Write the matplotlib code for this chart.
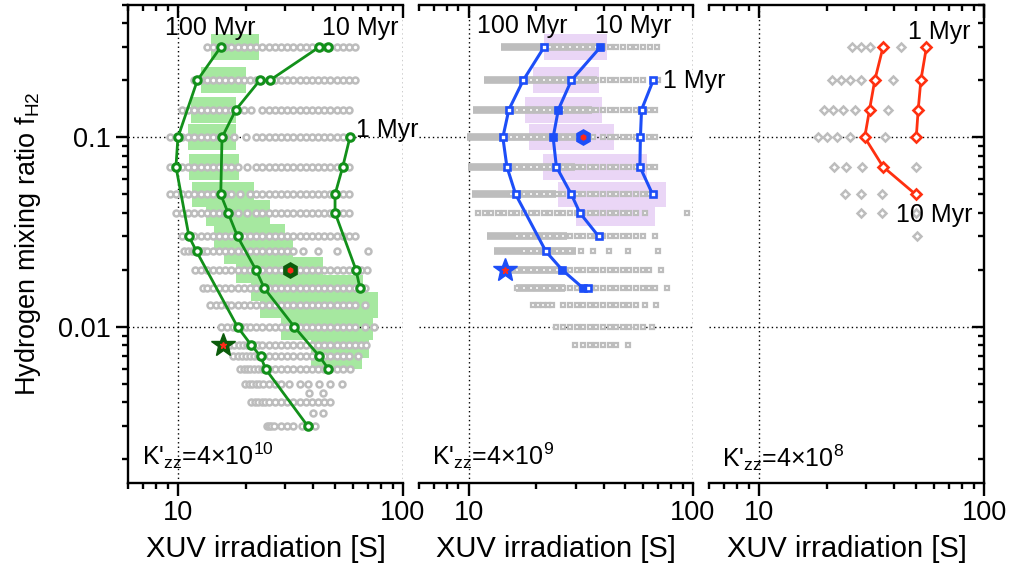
import matplotlib.pyplot as plt
from matplotlib.ticker import FixedLocator, FuncFormatter, LogLocator, NullFormatter

plt.rcParams['font.family'] = ['Liberation Sans', 'DejaVu Sans']
plt.rcParams['mathtext.fontset'] = 'custom'
plt.rcParams['mathtext.rm'] = 'Liberation Sans'
plt.rcParams['mathtext.it'] = 'Liberation Sans:italic'

# ---------------- panel 1: K'zz = 4e10 (green) ----------------
p1_rows = [0.3, 0.2, 0.14, 0.1, 0.07, 0.05, 0.04, 0.03, 0.025, 0.02, 0.016, 0.013,
           0.01, 0.008, 0.007, 0.006, 0.005, 0.0045, 0.004, 0.0035, 0.003]
p1_grid = [
    [13.4, 14.3, 15.2, 16.2, 17.3, 18.4, 19.6, 20.9, 22.3, 23.7, 25.3, 26.9, 28.7, 30.6, 32.6,
     34.7, 37.0, 39.4, 42.0, 44.7, 47.6, 50.7, 54.0, 57.5, 61.3],
    [11.8, 12.6, 13.4, 14.3, 15.2, 16.2, 17.3, 18.4, 19.6, 20.9, 22.3, 23.7, 25.3, 26.9, 28.7,
     30.6, 32.6, 34.7, 37.0, 39.4, 42.0, 44.7, 47.6, 50.7, 54.0, 57.5, 61.3],
    [10.4, 11.1, 11.8, 12.6, 13.4, 14.3, 15.2, 16.2, 17.3, 18.4, 19.6, 21.2, 23.7, 25.3, 26.9,
     28.7, 30.6, 32.6, 34.7, 37.0, 39.4, 42.0, 44.7, 47.6, 50.7, 54.0, 57.5],
    [9.2, 9.8, 10.4, 11.1, 11.8, 12.6, 13.4, 14.3, 15.2, 16.2, 17.8, 20.0, 22.3, 23.7, 25.3,
     26.9, 28.7, 30.6, 32.6, 34.7, 37.0, 39.4, 42.0, 44.7, 47.6, 50.7, 54.0, 57.5],
    [9.2, 9.8, 10.4, 11.1, 11.8, 12.6, 13.4, 14.3, 15.2, 16.2, 17.3, 18.4, 20.3, 22.3, 23.7,
     25.3, 26.9, 28.7, 30.6, 32.6, 34.7, 37.0, 39.4, 42.0, 44.7, 47.6, 50.7, 54.0, 57.5],
    [9.2, 9.8, 10.4, 11.1, 11.8, 12.6, 13.4, 14.3, 15.2, 16.2, 17.3, 18.8, 20.9, 22.3, 23.7,
     25.3, 26.9, 28.7, 30.6, 32.6, 34.7, 37.0, 39.4, 42.0, 44.7, 47.6, 50.7, 54.0, 57.5],
    [9.8, 10.4, 11.1, 11.8, 12.6, 13.4, 14.3, 15.2, 16.2, 17.3, 18.4, 20.2, 22.3, 23.7, 25.3,
     26.9, 28.7, 30.6, 32.6, 34.7, 37.0, 39.4, 42.0, 44.7, 47.6, 50.7, 54.0, 57.5],
    [10.4, 11.1, 11.8, 12.6, 13.4, 14.3, 15.2, 16.2, 17.3, 18.4, 19.6, 20.9, 22.3, 23.7, 25.3,
     26.9, 28.7, 30.6, 32.6, 34.7, 37.0, 39.4, 42.0, 44.7, 47.6, 50.7, 54.0, 57.5, 61.3],
    [10.6, 11.1, 11.5, 11.8, 12.2, 12.6, 13.0, 13.4, 14.3, 15.2, 16.2, 17.3, 18.4, 19.6, 20.9,
     22.3, 23.7, 25.3, 26.9, 28.7, 30.6, 32.6, 35.8, 42.1, 50.8, 70.2],
    [11.9, 12.6, 13.4, 14.3, 15.2, 16.2, 17.3, 18.4, 19.6, 20.9, 22.3, 23.7, 25.3, 26.9, 28.7,
     30.6, 32.6, 34.7, 37.0, 39.4, 42.0, 44.7, 47.6, 50.7, 54.0, 57.5, 61.3, 65.3, 69.0],
    [12.9, 13.4, 14.3, 15.2, 16.2, 17.3, 18.4, 19.6, 20.9, 22.3, 23.7, 25.3, 26.9, 28.7, 30.6,
     32.6, 34.7, 37.0, 39.4, 42.0, 44.7, 47.6, 50.7, 54.0, 57.5, 61.3, 67.8],
    [13.9, 14.8, 15.6, 16.6, 17.3, 18.4, 19.6, 20.9, 22.3, 23.7, 25.3, 26.9, 28.7, 30.6, 32.6,
     34.7, 37.0, 39.4, 42.0, 44.7, 47.6, 50.7, 54.0, 57.5, 61.3, 67.8],
    [15.6, 16.6, 17.6, 18.4, 19.2, 20.0, 20.9, 22.3, 23.7, 25.3, 26.9, 28.7, 30.6, 32.6, 34.7,
     37.0, 39.4, 42.0, 44.7, 47.6, 50.7, 54.0, 57.5, 61.3, 67.8, 74.3],
    [17.0, 17.8, 18.6, 19.4, 20.2, 21.0, 21.8, 22.6, 23.7, 25.3, 26.9, 28.7, 30.6, 32.6, 34.7,
     37.0, 39.4, 42.0, 44.7, 47.6, 50.7, 54.0, 57.5, 61.3, 65.3, 68.5],
    [17.6, 18.4, 19.2, 20.0, 20.9, 21.8, 22.6, 23.7, 25.3, 26.9, 28.7, 30.6, 32.6, 34.7, 37.0,
     39.4, 42.0, 44.7, 47.6, 50.7, 54.0, 57.5, 63.3],
    [18.9, 19.6, 20.3, 21.0, 21.8, 22.6, 23.7, 25.3, 26.9, 28.7, 30.6, 32.6, 34.7, 37.0, 39.4,
     42.0, 44.7, 47.6, 50.7, 54.0, 58.1],
    [19.9, 20.6, 21.4, 22.2, 23.0, 23.8, 25.3, 26.9, 28.7, 31.0, 34.7, 38.0, 42.5, 47.6, 53.4],
    [38.4, 44.3],
    [21.2, 22.0, 22.8, 23.6, 24.4, 25.3, 26.9, 28.7, 30.6, 32.6, 34.7, 37.0, 39.4, 42.0, 44.7,
     47.4],
    [39.7, 44.3],
    [24.8, 25.4, 26.0, 26.6, 28.7, 30.6, 32.6, 35.5, 38.0, 40.6],
]
# shaded region (row, x from, x to)
p1_band_row = [0.3, 0.2, 0.14, 0.1, 0.07, 0.05, 0.04, 0.03, 0.025, 0.02, 0.016, 0.013, 0.01,
               0.008, 0.007]
p1_band_lo = [14.0, 12.7, 11.4, 11.1, 11.2, 11.5, 13.3, 14.5, 16.1, 18.1, 21.1, 23.2, 28.6,
              39.2, 39.2]
p1_band_hi = [23.0, 20.0, 18.2, 18.1, 18.6, 21.7, 25.6, 29.9, 32.6, 44.2, 66.6, 77.6, 73.9,
              70.6, 65.5]
p1_1myr_x = [58.1, 54.0, 49.9, 49.9, 61.8, 64.4]
p1_1myr_y = [0.1, 0.07, 0.05, 0.04, 0.02, 0.016]
p1_10myr_x = [46.5, 42.5, 25.6, 23.1, 18.1, 15.7, 15.5, 16.7, 18.4, 22.2, 24.2, 32.9, 42.5, 46.6]
p1_10myr_y = [0.3, 0.3, 0.2, 0.2, 0.14, 0.1, 0.05, 0.04, 0.03, 0.02, 0.016, 0.01, 0.007, 0.006]
p1_100myr_x = [15.5, 12.2, 10.0, 9.8, 11.2, 12.1, 18.4, 21.2, 23.3, 24.5, 37.7]
p1_100myr_y = [0.3, 0.2, 0.1, 0.07, 0.03, 0.025, 0.01, 0.008, 0.007, 0.006, 0.003]
p1_hex = (31.5, 0.02)
p1_star = (15.8, 0.008)

# ---------------- panel 2: K'zz = 4e9 (blue) ----------------
p2_rows = [0.3, 0.2, 0.14, 0.1, 0.07, 0.05, 0.04, 0.03, 0.025, 0.02, 0.016, 0.013, 0.01, 0.008]
p2_bar_lo = [14.0, 11.7, 10.5, 9.8, 9.9, 10.3, None, 12.1, 12.9, 15.2, 16.3, None, None, None]
p2_bar_hi = [41.0, 37.2, 35.3, 30.2, 29.7, 24.6, None, 27.3, 30.2, 26.0, 27.0, None, None, None]
p2_grid = [
    [21.6, 23.1, 24.7, 26.4, 28.3, 30.3, 32.4, 34.7, 37.1, 39.7, 42.6, 45.6, 48.8, 52.3, 56.0,
     60.0, 64.3, 69.3],
    [17.6, 18.9, 20.2, 21.6, 23.1, 24.7, 26.4, 28.3, 30.3, 32.4, 34.7, 37.1, 39.7, 42.5, 45.5,
     48.7, 52.1, 55.7, 59.6, 70.0],
    [15.4, 16.5, 17.6, 18.9, 20.2, 21.6, 23.1, 24.7, 26.4, 28.3, 30.3, 32.4, 34.7, 37.1, 39.7,
     42.5, 45.5, 48.7, 52.1, 55.7, 63.8, 67.6],
    [14.4, 15.4, 16.5, 17.6, 18.9, 20.2, 21.6, 24.7, 26.4, 28.3, 30.3, 35.9, 39.7, 42.5, 45.5,
     48.7, 52.1, 55.7, 63.8, 67.6],
    [14.4, 15.4, 16.5, 17.6, 18.9, 20.2, 21.6, 23.1, 26.4, 28.3, 30.3, 32.4, 34.7, 37.1, 39.7,
     42.5, 45.5, 48.7, 52.1, 55.7, 63.8, 67.6],
    [15.4, 16.5, 17.6, 18.9, 20.2, 21.6, 23.1, 24.7, 26.4, 30.3, 32.4, 34.7, 37.1, 39.7, 42.5,
     45.5, 48.7, 52.1, 55.7, 59.6, 63.8, 67.6],
    [11.0, 11.8, 12.6, 13.5, 14.4, 15.4, 16.5, 17.6, 18.9, 20.2, 21.6, 23.1, 24.7, 26.4, 28.3,
     30.3, 32.4, 34.7, 37.1, 39.7, 42.5, 45.5, 48.7, 52.1, 55.7, 61.1, 93.7],
    [16.5, 17.6, 18.9, 20.2, 21.6, 23.1, 24.7, 26.4, 28.3, 30.3, 32.4, 34.7, 37.1, 39.7, 42.5,
     45.5, 48.7, 52.1, 55.7, 59.6, 67.6],
    [17.6, 18.9, 20.2, 21.6, 23.1, 24.7, 26.4, 28.3, 31.8, 35.9, 42.1, 51.5, 70.1],
    [16.5, 17.6, 18.9, 20.2, 21.6, 23.1, 24.7, 28.3, 30.3, 32.4, 34.7, 37.1, 39.7, 42.5, 45.5,
     48.7, 52.1, 55.7, 59.6, 63.8, 72.4],
    [16.5, 17.6, 18.9, 20.2, 21.6, 23.1, 24.7, 26.4, 28.3, 30.3, 35.9, 37.1, 39.7, 42.5, 45.5,
     48.7, 52.1, 55.7, 59.6, 63.8, 67.6, 76.7],
    [19.4, 20.4, 21.4, 22.5, 23.6, 26.4, 28.3, 30.3, 32.4, 34.7, 37.1, 39.7, 42.5, 45.5, 48.7,
     52.1, 55.7, 61.1, 68.4],
    [24.6, 26.4, 28.3, 30.3, 32.4, 34.7, 37.1, 39.7, 42.5, 45.5, 48.7, 52.1, 55.7, 59.6, 65.4],
    [29.9, 32.4, 34.7, 37.1, 39.7, 42.5, 45.5, 51.4],
]
p2_band_row = [0.3, 0.2, 0.14, 0.1, 0.07, 0.05, 0.04]
p2_band_lo = [21.7, 19.4, 17.8, 18.5, 21.5, 24.9, 30.0]
p2_band_hi = [41.2, 38.0, 39.2, 44.4, 62.2, 75.8, 68.0]
p2_1myr_x = [66.5, 59.0, 58.3, 58.0, 66.1]
p2_1myr_y = [0.2, 0.14, 0.1, 0.07, 0.05]
p2_10myr_x = [38.7, 28.7, 25.1, 23.8, 24.6, 28.7, 31.3, 38.0]
p2_10myr_y = [0.3, 0.2, 0.14, 0.1, 0.07, 0.05, 0.04, 0.03]
p2_100myr_x = [21.7, 17.5, 15.1, 14.2, 14.8, 16.2, 22.1, 26.1, 32.4, 34.1]
p2_100myr_y = [0.3, 0.2, 0.14, 0.1, 0.07, 0.05, 0.025, 0.02, 0.016, 0.016]
p2_solid_x = [38.7, 25.1, 23.8, 26.1, 32.4]
p2_solid_y = [0.3, 0.14, 0.1, 0.02, 0.016]
p2_hex = (32.4, 0.1)
p2_star = (14.5, 0.02)

# ---------------- panel 3: K'zz = 4e8 (red) ----------------
p3_rows = [0.3, 0.2, 0.14, 0.1, 0.07, 0.05, 0.04, 0.03]
p3_grid = [
    [26.0, 28.5, 31.3, 42.7],
    [21.2, 23.2, 25.5, 28.5, 39.4],
    [19.4, 21.4, 23.6, 26.6, 37.6],
    [18.3, 20.1, 22.3, 25.4, 36.2],
    [21.5, 24.3, 28.8, 49.7],
    [24.0, 28.5, 35.3],
    [28.3, 35.3, 49.7],
    [50.6],
]
p3_10myr_x = [35.6, 32.7, 31.0, 29.5, 35.6, 49.7]
p3_10myr_y = [0.3, 0.2, 0.14, 0.1, 0.07, 0.05]
p3_1myr_x = [55.5, 52.4, 51.0, 50.0]
p3_1myr_y = [0.3, 0.2, 0.14, 0.1]

GREY = '#bdbdbd'
GREEN = '#12901a'
DKGREEN = '#0b5c0b'
BLUE = '#1d4ef8'
RED = '#ff3010'
LW_AX = 1.7

fig = plt.figure(figsize=(10.11, 5.76), dpi=100)
ax1 = fig.add_axes([0.1266, 0.1615, 0.2720, 0.8299])
ax2 = fig.add_axes([0.4144, 0.1615, 0.2710, 0.8299])
ax3 = fig.add_axes([0.7013, 0.1615, 0.2720, 0.8299])


def setup(ax, left=False, right=False):
    ax.set_facecolor('none')
    ax.set_xscale('log')
    ax.set_yscale('log')
    ax.set_xlim(6, 100)
    ax.set_ylim(0.0015, 0.5)
    for s in ['top', 'left', 'right']:
        ax.spines[s].set_visible(False)
    ax.spines['bottom'].set_linewidth(LW_AX)
    fmt = FuncFormatter(lambda v, p: f'{v:g}')
    ax.xaxis.set_major_locator(FixedLocator([10, 100]))
    ax.xaxis.set_major_formatter(fmt)
    ax.xaxis.set_minor_locator(LogLocator(base=10, subs=range(2, 10)))
    ax.xaxis.set_minor_formatter(NullFormatter())
    ax.tick_params(axis='x', which='major', direction='out', length=9, width=LW_AX,
                   labelsize=19.5, pad=3)
    ax.tick_params(axis='x', which='minor', direction='out', length=4.5, width=LW_AX)
    ax.yaxis.set_major_locator(FixedLocator([0.01, 0.1]))
    ax.yaxis.set_major_formatter(fmt)
    ax.yaxis.set_minor_locator(LogLocator(base=10, subs=range(2, 10)))
    ax.yaxis.set_minor_formatter(NullFormatter())
    if left:
        ax.spines['left'].set_visible(True)
        ax.spines['left'].set_linewidth(LW_AX)
        ax.tick_params(axis='y', which='major', direction='out', length=9, width=LW_AX,
                       labelsize=19.5, pad=3)
        ax.tick_params(axis='y', which='minor', direction='out', length=4.5, width=LW_AX)
    elif right:
        ax.spines['right'].set_visible(True)
        ax.spines['right'].set_linewidth(LW_AX)
        ax.yaxis.tick_right()
        ax.tick_params(axis='y', which='major', direction='in', length=9, width=LW_AX,
                       labelright=False)
        ax.tick_params(axis='y', which='minor', direction='in', length=4.5, width=LW_AX)
    else:
        ax.tick_params(axis='y', which='both', left=False, right=False, labelleft=False)
    ax.grid(True, which='major', linestyle=(0, (1, 2.2)), color='black', lw=1.0)
    top = ax.secondary_xaxis('top')
    top.spines['top'].set_linewidth(LW_AX)
    top.xaxis.set_major_locator(FixedLocator([10, 100]))
    top.xaxis.set_minor_locator(LogLocator(base=10, subs=range(2, 10)))
    top.xaxis.set_minor_formatter(NullFormatter())
    top.tick_params(which='major', direction='in', length=9, width=LW_AX, labeltop=False)
    top.tick_params(which='minor', direction='in', length=4.5, width=LW_AX)
    ax.set_xlabel('XUV irradiation [S]', fontsize=21, labelpad=7)


for ax in (ax1, ax2, ax3):
    setup(ax, left=ax is ax1, right=ax is ax3)

ax1.set_ylabel('Hydrogen mixing ratio f$_{\\mathrm{H2}}$', fontsize=19.5, labelpad=11)

# panel 1
for r, lo, hi in zip(p1_band_row, p1_band_lo, p1_band_hi):
    ax1.fill_between([lo, hi], r / 1.17, r * 1.17, color='#a6e8a0', lw=0, zorder=1)
for r, xs in zip(p1_rows, p1_grid):
    ax1.plot(xs, [r] * len(xs), 'o', ms=4.3, mfc='white', mec=GREY, mew=1.8, zorder=2)
for xs, ys in [(p1_1myr_x, p1_1myr_y), (p1_10myr_x, p1_10myr_y), (p1_100myr_x, p1_100myr_y)]:
    ax1.plot(xs, ys, '-o', color=GREEN, lw=2.0, ms=5.4, mfc='white', mec=GREEN, mew=2.2,
             zorder=3)
ax1.plot(*p1_hex, 'h', ms=8.5, mfc='#ff2a1a', mec=DKGREEN, mew=3.2, zorder=4)
ax1.plot(*p1_star, '*', ms=18, color=DKGREEN, zorder=4)
ax1.plot(*p1_star, '*', ms=5, color='#ff2a1a', zorder=5)
ax1.text(8.8, 0.345, '100 Myr', fontsize=18, ha='left', va='baseline')
ax1.text(43.5, 0.345, '10 Myr', fontsize=18, ha='left', va='baseline')
ax1.text(62.0, 0.1, '1 Myr', fontsize=18, ha='left', va='baseline')
ax1.text(0.05, 0.037, "K'$_{\\mathrm{zz}}$=4×10$^{10}$", fontsize=18,
         transform=ax1.transAxes, va='baseline')

# panel 2
for r, lo, hi in zip(p2_band_row, p2_band_lo, p2_band_hi):
    ax2.fill_between([lo, hi], r / 1.17, r * 1.17, color='#ead6f6', lw=0, zorder=1)
for r, lo, hi, xs in zip(p2_rows, p2_bar_lo, p2_bar_hi, p2_grid):
    if lo is not None:
        ax2.hlines(r, lo, hi, color=GREY, lw=5.5, zorder=2)
    ax2.plot(xs, [r] * len(xs), 's', ms=3.2, mfc='white', mec=GREY, mew=1.6, zorder=2)
for xs, ys in [(p2_1myr_x, p2_1myr_y), (p2_10myr_x, p2_10myr_y), (p2_100myr_x, p2_100myr_y)]:
    ax2.plot(xs, ys, '-s', color=BLUE, lw=2.2, ms=5.0, mfc='white', mec=BLUE, mew=1.9,
             zorder=3)
ax2.plot(p2_solid_x, p2_solid_y, 's', ms=5.0, color=BLUE, ls='none', zorder=3)
ax2.plot(*p2_hex, 'h', ms=8.5, mfc='#ff2a1a', mec=BLUE, mew=3.2, zorder=4)
ax2.plot(*p2_star, '*', ms=18, color=BLUE, zorder=4)
ax2.plot(*p2_star, '*', ms=5, color='#ff2a1a', zorder=5)
ax2.text(10.9, 0.355, '100 Myr', fontsize=18, ha='left', va='baseline')
ax2.text(36.5, 0.355, '10 Myr', fontsize=18, ha='left', va='baseline')
ax2.text(73.5, 0.183, '1 Myr', fontsize=18, ha='left', va='baseline')
ax2.text(0.046, 0.037, "K'$_{\\mathrm{zz}}$=4×10$^{9}$", fontsize=18,
         transform=ax2.transAxes, va='baseline')

# panel 3
for r, xs in zip(p3_rows, p3_grid):
    ax3.plot(xs, [r] * len(xs), 'D', ms=4.0, mfc='white', mec=GREY, mew=1.8, zorder=2)
for xs, ys in [(p3_10myr_x, p3_10myr_y), (p3_1myr_x, p3_1myr_y)]:
    ax3.plot(xs, ys, '-D', color=RED, lw=2.0, ms=4.8, mfc='white', mec=RED, mew=1.9, zorder=3)
ax3.text(46.0, 0.33, '1 Myr', fontsize=18, ha='left', va='baseline')
ax3.text(40.5, 0.0357, '10 Myr', fontsize=18, ha='left', va='baseline')
ax3.text(0.046, 0.034, "K'$_{\\mathrm{zz}}$=4×10$^{8}$", fontsize=18,
         transform=ax3.transAxes, va='baseline')

fig.savefig('out.png', dpi=100)
